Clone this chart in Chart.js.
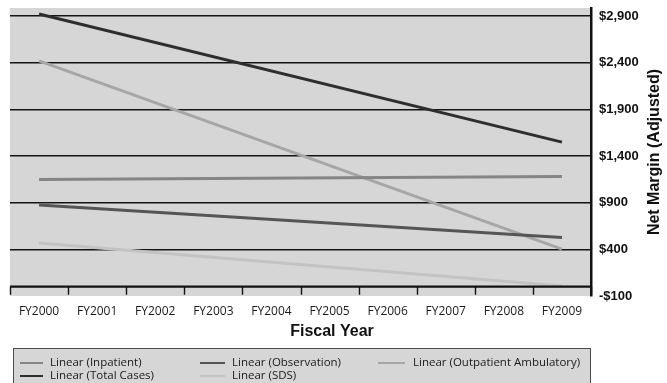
<!DOCTYPE html>
<html>
<head>
<meta charset="utf-8">
<script src="https://cdn.jsdelivr.net/npm/chart.js@4.4.1/dist/chart.umd.min.js"></script>
<style>
  html, body { margin: 0; padding: 0; background: #ffffff; }
  #wrap { width: 667px; height: 383px; }
</style>
</head>
<body>
<div id="wrap"><canvas id="c" width="667" height="383"></canvas></div>
<script>
// Fiscal years on the horizontal axis
const fiscalYears = ['FY2000', 'FY2001', 'FY2002', 'FY2003', 'FY2004',
                     'FY2005', 'FY2006', 'FY2007', 'FY2008', 'FY2009'];

// Linear trendlines: value at FY2000 and FY2009, joined straight across
const inpatient     = [1147, null, null, null, null, null, null, null, null, 1180];
const observation   = [875,  null, null, null, null, null, null, null, null, 527];
const outpatientAmb = [2418, null, null, null, null, null, null, null, null, 402];
const totalCases    = [2921, null, null, null, null, null, null, null, null, 1548];
const sds           = [468,  null, null, null, null, null, null, null, null, 8];

// Net margin ticks on the right-hand axis
const marginTicks = [-100, 400, 900, 1400, 1900, 2400, 2900];

const seriesNames = ['Linear (Inpatient)', 'Linear (Observation)',
                     'Linear (Outpatient Ambulatory)', 'Linear (Total Cases)', 'Linear (SDS)'];
const seriesColors = ['#858585', '#555555', '#a6a6a6', '#2e2e2e', '#c3c3c3'];
const seriesData = [inpatient, observation, outpatientAmb, totalCases, sds];

const moneyFmt = v => (v < 0 ? '-$' : '$') + Math.abs(v).toLocaleString('en-US');

const PLOT_BG = '#d6d6d6';

// Grey plot area, zero-line axis with tick marks, axis titles and boxed legend
const decorations = {
  id: 'decorations',
  beforeDraw(chart) {
    const { ctx, chartArea: a } = chart;
    ctx.save();
    ctx.fillStyle = PLOT_BG;
    ctx.fillRect(a.left, a.top, a.right - a.left, a.bottom - a.top);
    ctx.restore();
  },
  afterDatasetsDraw(chart) {
    const { ctx, chartArea: a } = chart;
    const xs = chart.scales.x, ys = chart.scales.y;
    const y0 = ys.getPixelForValue(0);
    const n = chart.data.labels.length;
    const step = (xs.right - xs.left) / n;
    ctx.save();
    ctx.strokeStyle = '#111111';
    ctx.lineWidth = 2.2;
    ctx.beginPath();
    ctx.moveTo(a.left, y0);
    ctx.lineTo(a.right, y0);
    ctx.stroke();
    ctx.lineWidth = 1.4;
    ctx.beginPath();
    for (let i = 0; i <= n; i++) {
      const x = Math.round(xs.left + i * step) + 0.5;
      ctx.moveTo(x, y0);
      ctx.lineTo(x, y0 + 8);
    }
    ctx.stroke();
    ctx.restore();
  },
  afterDraw(chart) {
    const { ctx, chartArea: a } = chart;
    const ys = chart.scales.y;
    ctx.save();
    ctx.fillStyle = '#111111';
    ctx.font = 'bold 16px "Liberation Sans", Arial, sans-serif';
    ctx.textAlign = 'center';
    ctx.textBaseline = 'middle';
    // x-axis title
    ctx.fillText('Fiscal Year', 332, 332);
    // y-axis title, reading bottom to top
    ctx.translate(ys.right - 12, (a.top + a.bottom) / 2);
    ctx.rotate(-Math.PI / 2);
    ctx.fillText('Net Margin (Adjusted)', 0, 0);
    ctx.restore();

    // legend box
    ctx.save();
    ctx.fillStyle = PLOT_BG;
    ctx.fillRect(13.5, 348.5, 577, 40);
    ctx.strokeStyle = '#4a4a4a';
    ctx.lineWidth = 1;
    ctx.strokeRect(13.5, 348.5, 577, 40);
    const cols = [[20, 43, 50], [200, 225, 232], [378, 405, 413]];
    const rows = [363, 376];
    ctx.font = '11.5px "Open Sans", sans-serif';
    ctx.textBaseline = 'middle';
    ctx.textAlign = 'left';
    chart.data.datasets.forEach((ds, i) => {
      const c = cols[i % 3], r = rows[Math.floor(i / 3)];
      ctx.strokeStyle = ds.borderColor;
      ctx.lineWidth = 2;
      ctx.beginPath();
      ctx.moveTo(c[0], r);
      ctx.lineTo(c[1], r);
      ctx.stroke();
      ctx.fillStyle = '#1a1a1a';
      ctx.fillText(ds.label, c[2], r);
    });
    ctx.restore();
  }
};

new Chart(document.getElementById('c'), {
  type: 'line',
  data: {
    labels: fiscalYears,
    datasets: seriesData.map((d, i) => ({
      label: seriesNames[i],
      data: d,
      borderColor: seriesColors[i],
      backgroundColor: seriesColors[i],
      borderWidth: 3,
      pointRadius: 0,
      spanGaps: true,
      tension: 0,
      fill: false
    }))
  },
  options: {
    responsive: false,
    animation: false,
    layout: { padding: { left: 10, top: 8, right: 0, bottom: 0 } },
    plugins: {
      legend: { display: false },
      tooltip: { enabled: false }
    },
    scales: {
      x: {
        type: 'category',
        offset: true,
        grid: { display: false },
        border: { display: false },
        ticks: {
          autoSkip: false,
          maxRotation: 0,
          padding: 0,
          color: '#1a1a1a',
          font: { family: '"Open Sans", sans-serif', size: 12 }
        },
        afterFit(scale) { scale.height = 87; scale.paddingLeft = 0; scale.paddingRight = 0; }
      },
      y: {
        position: 'right',
        min: -100,
        max: 2985,
        afterBuildTicks(scale) { scale.ticks = marginTicks.map(v => ({ value: v })); },
        grid: {
          color: ctx => (ctx.tick && ctx.tick.value === -100 ? 'rgba(0,0,0,0)' : '#141414'),
          lineWidth: 1.5,
          drawTicks: false
        },
        border: { display: true, color: '#111111', width: 2.5 },
        ticks: {
          padding: 8,
          color: '#111111',
          font: { family: '"Liberation Sans", Arial, sans-serif', size: 13, weight: 'bold' },
          callback: v => moneyFmt(v)
        },
        afterFit(scale) { scale.width = 76; scale.paddingTop = 0; scale.paddingBottom = 0; }
      }
    }
  },
  plugins: [decorations]
});
</script>
</body>
</html>
